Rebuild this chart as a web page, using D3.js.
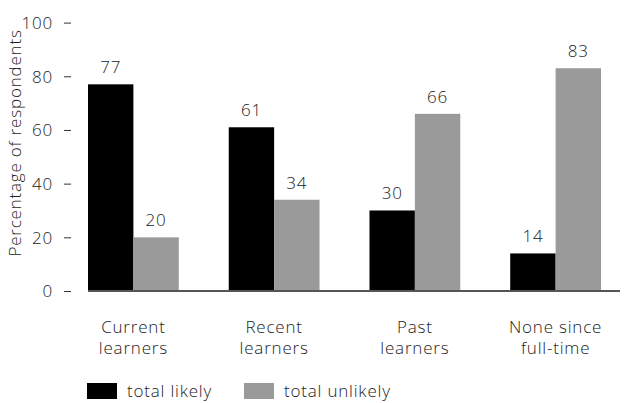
<!DOCTYPE html>
<html>
<head>
<meta charset="utf-8">
<script src="https://cdn.jsdelivr.net/npm/d3@7"></script>
<style>
  body { margin: 0; background: #fff; }
  svg text { font-family: "Open Sans", Lato, sans-serif; font-weight: 300; fill: #222; letter-spacing: 0.8px; }
</style>
</head>
<body>
<svg id="chart" width="624" height="403"></svg>
<script>
// Likelihood of future learning, by learner status
const categories = [["Current", "learners"], ["Recent", "learners"], ["Past", "learners"], ["None since", "full-time"]];
const seriesNames = ["total likely", "total unlikely"];
const likely = [77, 61, 30, 14];
const unlikely = [20, 34, 66, 83];
const yTicks = [0, 20, 40, 60, 80, 100];
const colors = ["#000000", "#9a9a9a"];

const svg = d3.select("#chart");

const x0 = d3.scaleBand()
  .domain(d3.range(categories.length))
  .range([88, 601])
  .paddingInner(0.355)
  .paddingOuter(0);

const x1 = d3.scaleBand()
  .domain(d3.range(seriesNames.length))
  .range([0, x0.bandwidth()]);

const y = d3.scaleLinear().domain([0, 100]).range([291, 22.6]);

const series = [likely, unlikely];

// Y axis: short dashes with labels, no spine
const yAxis = d3.axisLeft(y).tickValues(yTicks).tickSize(7).tickPadding(11);
const gy = svg.append("g").attr("transform", "translate(71,0)").call(yAxis);
gy.select(".domain").remove();
gy.selectAll(".tick line").attr("stroke", "#333").attr("stroke-width", 1);
gy.selectAll(".tick text").style("font-size", "17px").attr("fill", "#222").attr("dy", "0.35em");

svg.append("text")
  .attr("transform", "translate(21,143) rotate(-90)")
  .attr("text-anchor", "middle")
  .style("font-size", "17px")
  .text("Percentage of respondents");

// Bars
const groups = svg.append("g").selectAll("g")
  .data(categories.map((c, i) => i))
  .join("g")
  .attr("transform", i => `translate(${x0(i)},0)`);

groups.selectAll("rect")
  .data(i => series.map((s, k) => ({ k, v: s[i] })))
  .join("rect")
  .attr("x", d => x1(d.k))
  .attr("width", x1.bandwidth())
  .attr("y", d => y(d.v))
  .attr("height", d => y(0) - y(d.v))
  .attr("fill", d => colors[d.k]);

groups.selectAll("text.val")
  .data(i => series.map((s, k) => ({ k, v: s[i] })))
  .join("text")
  .attr("class", "val")
  .attr("x", d => x1(d.k) + x1.bandwidth() / 2)
  .attr("y", d => y(d.v) - 11)
  .attr("text-anchor", "middle")
  .style("font-size", "17px")
  .text(d => d.v);

// Baseline
svg.append("line")
  .attr("x1", 88).attr("x2", 620)
  .attr("y1", y(0)).attr("y2", y(0))
  .attr("stroke", "#555").attr("stroke-width", 2);

// Category labels
const cat = svg.append("g").selectAll("text")
  .data(categories)
  .join("text")
  .attr("x", (d, i) => x0(i) + x0.bandwidth() / 2)
  .attr("y", 333)
  .attr("text-anchor", "middle")
  .style("font-size", "17px");
cat.selectAll("tspan")
  .data(d => d)
  .join("tspan")
  .attr("x", function () { return d3.select(this.parentNode).attr("x"); })
  .attr("dy", (d, j) => j === 0 ? 0 : 21)
  .text(d => d);

// Legend
const legendX = [87, 244];
const leg = svg.append("g").selectAll("g")
  .data(seriesNames)
  .join("g")
  .attr("transform", (d, i) => `translate(${legendX[i]},383)`);
leg.append("rect").attr("width", 30).attr("height", 16).attr("fill", (d, i) => colors[i]);
leg.append("text").attr("x", 40).attr("y", 14).style("font-size", "17px").text(d => d);
</script>
</body>
</html>
